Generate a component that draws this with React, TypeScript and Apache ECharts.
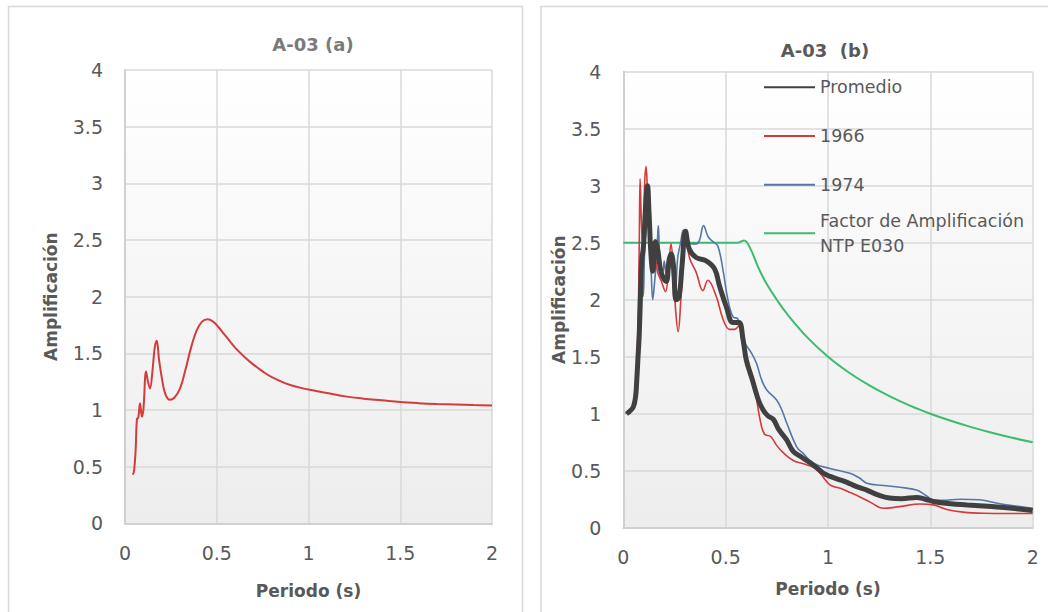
import React, { useEffect, useRef } from "react";
import * as echarts from "echarts";

// ---------- Chart (a) ----------
const tA = [0.043, 0.05, 0.058, 0.065, 0.072, 0.082, 0.092, 0.1, 0.115, 0.125, 0.136, 0.15, 0.162, 0.173, 0.185, 0.2, 0.22, 0.245, 0.27, 0.3, 0.33, 0.36, 0.39, 0.42, 0.45, 0.48, 0.51, 0.54, 0.57, 0.6, 0.65, 0.7, 0.75, 0.8, 0.9, 1.0, 1.1, 1.2, 1.3, 1.4, 1.5, 1.6, 1.7, 1.8, 1.9, 2.0];
const ampA = [0.43, 0.47, 0.65, 0.92, 0.93, 1.06, 0.94, 1.0, 1.34, 1.25, 1.19, 1.35, 1.55, 1.61, 1.45, 1.29, 1.14, 1.09, 1.11, 1.19, 1.36, 1.55, 1.7, 1.78, 1.8, 1.78, 1.73, 1.67, 1.61, 1.55, 1.47, 1.4, 1.34, 1.29, 1.22, 1.18, 1.15, 1.12, 1.1, 1.085, 1.07, 1.06, 1.053, 1.048, 1.043, 1.04];

// ---------- Chart (b) ----------
const tProm = [0.016, 0.03, 0.049, 0.06, 0.065, 0.072, 0.078, 0.085, 0.09, 0.097, 0.103, 0.11, 0.118, 0.126, 0.135, 0.144, 0.157, 0.168, 0.185, 0.209, 0.224, 0.234, 0.245, 0.258, 0.272, 0.287, 0.304, 0.323, 0.356, 0.405, 0.446, 0.47, 0.503, 0.536, 0.565, 0.585, 0.601, 0.63, 0.66, 0.684, 0.707, 0.733, 0.76, 0.798, 0.83, 0.87, 0.928, 0.976, 1.01, 1.058, 1.09, 1.14, 1.19, 1.24, 1.3, 1.36, 1.433, 1.475, 1.515, 1.6, 1.68, 1.8, 1.9, 2.0];
const ampProm = [1.0, 1.02, 1.06, 1.15, 1.27, 1.5, 1.7, 2.1, 2.35, 2.44, 2.6, 2.85, 3.0, 2.75, 2.4, 2.25, 2.51, 2.44, 2.24, 2.16, 2.35, 2.4, 2.3, 2.0, 2.02, 2.3, 2.6, 2.44, 2.37, 2.34, 2.27, 2.12, 1.94, 1.8, 1.8, 1.65, 1.47, 1.3, 1.12, 1.03, 0.98, 0.95, 0.86, 0.77, 0.67, 0.62, 0.55, 0.48, 0.45, 0.42, 0.4, 0.36, 0.33, 0.29, 0.26, 0.255, 0.266, 0.25, 0.23, 0.21, 0.2, 0.185, 0.17, 0.15];

const t1966 = [0.01, 0.03, 0.045, 0.06, 0.072, 0.078, 0.082, 0.088, 0.094, 0.1, 0.105, 0.111, 0.118, 0.124, 0.135, 0.152, 0.168, 0.184, 0.206, 0.222, 0.233, 0.245, 0.256, 0.268, 0.282, 0.294, 0.304, 0.323, 0.356, 0.389, 0.413, 0.454, 0.487, 0.519, 0.544, 0.565, 0.584, 0.61, 0.635, 0.668, 0.69, 0.72, 0.75, 0.78, 0.83, 0.88, 0.928, 0.96, 1.01, 1.06, 1.107, 1.156, 1.21, 1.27, 1.35, 1.45, 1.515, 1.58, 1.66, 1.76, 1.88, 2.0];
const amp1966 = [1.0, 1.03, 1.06, 1.25, 1.8, 2.5, 3.06, 2.7, 2.5, 2.75, 3.05, 3.17, 2.95, 2.72, 2.51, 2.41, 2.24, 2.17, 2.07, 2.3, 2.49, 2.24, 1.9, 1.72, 2.03, 2.35, 2.58, 2.37, 2.24, 2.08, 2.17, 2.03, 1.83, 1.74, 1.74, 1.77, 1.6, 1.45, 1.3, 0.95, 0.82, 0.8, 0.72, 0.66, 0.59, 0.56, 0.53, 0.48, 0.375, 0.345, 0.31, 0.27, 0.22, 0.17, 0.185, 0.208, 0.2, 0.16, 0.137, 0.127, 0.125, 0.125];

const t1974 = [0.016, 0.03, 0.05, 0.06, 0.066, 0.075, 0.082, 0.09, 0.097, 0.103, 0.109, 0.119, 0.126, 0.135, 0.144, 0.15, 0.157, 0.165, 0.171, 0.177, 0.186, 0.193, 0.2, 0.212, 0.222, 0.233, 0.243, 0.25, 0.258, 0.266, 0.28, 0.294, 0.305, 0.315, 0.336, 0.356, 0.372, 0.392, 0.415, 0.438, 0.462, 0.487, 0.511, 0.536, 0.56, 0.584, 0.627, 0.651, 0.675, 0.7, 0.749, 0.775, 0.798, 0.847, 0.88, 0.928, 1.01, 1.107, 1.15, 1.19, 1.27, 1.35, 1.433, 1.48, 1.515, 1.56, 1.645, 1.74, 1.84, 1.92, 2.0];
const amp1974 = [1.0, 1.02, 1.06, 1.15, 1.3, 1.9, 2.2, 2.07, 2.03, 2.37, 2.6, 2.85, 2.6, 2.3, 2.0, 2.1, 2.24, 2.45, 2.65, 2.4, 2.25, 2.24, 2.34, 2.2, 2.25, 2.3, 2.15, 2.03, 2.15, 2.37, 2.5, 2.61, 2.58, 2.51, 2.49, 2.49, 2.52, 2.65, 2.55, 2.51, 2.47, 2.26, 2.0, 1.85, 1.83, 1.65, 1.53, 1.44, 1.3, 1.21, 1.12, 1.03, 0.92, 0.71, 0.65, 0.565, 0.52, 0.477, 0.44, 0.39, 0.37, 0.355, 0.33, 0.28, 0.243, 0.24, 0.25, 0.245, 0.21, 0.19, 0.17];

const tNTP = [0, 0.1, 0.2, 0.3, 0.4, 0.5, 0.56, 0.59, 0.62, 0.66, 0.7, 0.75, 0.8, 0.9, 1.0, 1.1, 1.2, 1.3, 1.4, 1.5, 1.6, 1.7, 1.8, 1.9, 2.0];
const ampNTP = [2.5, 2.5, 2.5, 2.5, 2.5, 2.5, 2.5, 2.52, 2.45, 2.28, 2.14, 2.0, 1.875, 1.667, 1.5, 1.364, 1.25, 1.154, 1.071, 1.0, 0.9375, 0.882, 0.833, 0.789, 0.75];

const xTicks = { min: 0, max: 2, interval: 0.5 };
const yTicks = { min: 0, max: 4, interval: 0.5 };

const zip = (xs: number[], ys: number[]) => xs.map((x, i) => [x, ys[i]]);

const FONT = "DejaVu Sans";
const GRID_COLOR = "#d9d9d9";

function App() {
  const ref = useRef<HTMLDivElement>(null);
  useEffect(() => {
    if (!ref.current) return;
    const chart = echarts.init(ref.current, null, { renderer: "svg" });
    const bg = () =>
      new echarts.graphic.LinearGradient(0, 0, 0, 1, [
        { offset: 0, color: "#ffffff" },
        { offset: 1, color: "#ededed" },
      ]);
    const xAxisBase = (gridIndex: number, nameGap: number) => ({
      type: "value",
      gridIndex,
      ...xTicks,
      name: "Periodo (s)",
      nameLocation: "middle",
      nameGap,
      nameTextStyle: { fontFamily: FONT, fontSize: 17, fontWeight: "bold", color: "#595959" },
      axisLine: { show: true, lineStyle: { color: "#d0d0d0", width: 2 } },
      axisTick: { show: false },
      axisLabel: { fontFamily: FONT, fontSize: 19, color: "#595959", margin: 20 },
      splitLine: { show: true, lineStyle: { color: GRID_COLOR, width: 1.5 } },
    });
    const yAxisBase = (gridIndex: number, nameGap: number) => ({
      type: "value",
      gridIndex,
      ...yTicks,
      name: "Amplificación",
      nameLocation: "middle",
      nameGap,
      nameTextStyle: { fontFamily: FONT, fontSize: 17, fontWeight: "bold", color: "#595959" },
      axisLine: { show: true, lineStyle: { color: "#d0d0d0", width: 2 } },
      axisTick: { show: false },
      axisLabel: { fontFamily: FONT, fontSize: 19, color: "#595959", margin: 22 },
      splitLine: { show: true, lineStyle: { color: GRID_COLOR, width: 1.5 } },
    });
    const legendText = { fontFamily: FONT, fontSize: 17.5, color: "#595959", lineHeight: 25 };
    chart.setOption({
      animation: false,
      backgroundColor: "#ffffff",
      title: [
        {
          text: "A-03 (a)",
          left: 308,
          top: 30,
          textAlign: "center",
          textStyle: { fontFamily: FONT, fontSize: 18, fontWeight: "bold", color: "#7a7a7a" },
        },
        {
          text: "A-03  (b)",
          left: 820,
          top: 36,
          textAlign: "center",
          textStyle: { fontFamily: FONT, fontSize: 18, fontWeight: "bold", color: "#595959" },
        },
      ],
      graphic: [
        { type: "rect", shape: { x: 8.5, y: 6.5, width: 514, height: 630 }, style: { fill: "none", stroke: "#d9d9d9", lineWidth: 1.5 }, silent: true },
        { type: "rect", shape: { x: 541, y: 6.5, width: 530, height: 630 }, style: { fill: "none", stroke: "#d9d9d9", lineWidth: 1.5 }, silent: true },
      ],
      legend: [
        {
          orient: "vertical",
          left: 763,
          top: 74.8,
          padding: 0,
          itemWidth: 51,
          itemHeight: 14,
          itemGap: 23.7,
          selectedMode: false,
          itemStyle: { opacity: 0 },
          textStyle: legendText,
          data: ["Promedio", "1966", "1974"],
        },
        {
          orient: "vertical",
          left: 763,
          top: 195.8,
          padding: 0,
          itemWidth: 51,
          itemHeight: 14,
          selectedMode: false,
          itemStyle: { opacity: 0 },
          textStyle: { ...legendText, padding: [25, 0, 0, 0] },
          formatter: () => "Factor de Amplificación\nNTP E030",
          data: ["Factor de Amplificación NTP E030"],
        },
      ],
      grid: [
        { left: 125, right: 556, top: 70, bottom: 88.7, show: true, backgroundColor: bg(), borderWidth: 0 },
        { left: 623.3, right: 15.3, top: 71.7, bottom: 84.3, show: true, backgroundColor: bg(), borderWidth: 0 },
      ],
      xAxis: [xAxisBase(0, 59), xAxisBase(1, 53)],
      yAxis: [yAxisBase(0, 66), yAxisBase(1, 47)],
      series: [
        {
          name: "A-03 (a)",
          type: "line",
          xAxisIndex: 0,
          yAxisIndex: 0,
          data: zip(tA, ampA),
          smooth: 0.4,
          symbol: "none",
          lineStyle: { color: "#d23c3c", width: 2 },
          itemStyle: { color: "#d23c3c" },
        },
        {
          name: "Factor de Amplificación NTP E030",
          type: "line",
          xAxisIndex: 1,
          yAxisIndex: 1,
          data: zip(tNTP, ampNTP),
          smooth: 0.4,
          symbol: "none",
          lineStyle: { color: "#3dbb70", width: 2 },
          itemStyle: { color: "#3dbb70" },
        },
        {
          name: "1974",
          type: "line",
          xAxisIndex: 1,
          yAxisIndex: 1,
          data: zip(t1974, amp1974),
          smooth: 0.4,
          symbol: "none",
          lineStyle: { color: "#5577a8", width: 1.6 },
          itemStyle: { color: "#5577a8" },
        },
        {
          name: "1966",
          type: "line",
          xAxisIndex: 1,
          yAxisIndex: 1,
          data: zip(t1966, amp1966),
          smooth: 0.4,
          symbol: "none",
          lineStyle: { color: "#d6393b", width: 1.6 },
          itemStyle: { color: "#d6393b" },
        },
        {
          name: "Promedio",
          type: "line",
          xAxisIndex: 1,
          yAxisIndex: 1,
          data: zip(tProm, ampProm),
          smooth: 0.4,
          symbol: "none",
          lineStyle: { color: "#404040", width: 5 },
          itemStyle: { color: "#404040" },
        },
      ],
    });
    return () => chart.dispose();
  }, []);
  return (
    <div
      ref={ref}
      style={{ position: "fixed", left: 0, top: 0, width: 1048, height: 612 }}
    />
  );
}

export default App;
